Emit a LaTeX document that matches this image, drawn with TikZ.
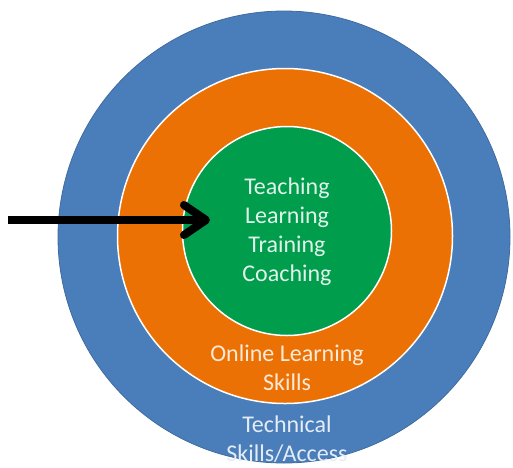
\documentclass[tikz,border=0pt]{standalone}
\usepackage{fontspec}
\setmainfont{Carlito}
\usepackage{tikz}
\usetikzlibrary{arrows.meta}

\definecolor{ringblue}{RGB}{74,126,187}
\definecolor{ringorange}{RGB}{236,113,4}
\definecolor{ringgreen}{RGB}{0,157,76}

\tikzset{
  ring/.style={circle, inner sep=0pt, draw=white, line width=1.5pt},
  label/.style={font=\fontsize{24}{29}\selectfont, align=center, inner sep=0pt},
  pointer/.style={line width=8pt, -{Straight Barb[length=22pt, width=30pt, round]}}
}

\begin{document}
\begin{tikzpicture}[x=1pt, y=-1pt]
\useasboundingbox (0,0) rectangle (513,467);
\node[ring, fill=ringblue, draw=ringblue!85!black, line width=0.8pt, minimum size=452pt] (outer) at (284,237) {};
\node[ring, fill=ringorange, minimum size=335pt] (middle) at (285,236) {};
\node[ring, fill=ringgreen, minimum size=209pt] (inner) at (287,231) {};
\node[label, text=white!88!ringgreen] (core) at (287,232) {Teaching\\Learning\\Training\\Coaching};
\node[label, text=white!85!ringorange] (online) at (287,368) {Online Learning\\Skills};
\node[label, text=white!85!ringblue] (technical) at (287,439) {Technical\\Skills/Access};
\coordinate (start) at (8,220);
\coordinate (tip) at (210,220);
\draw[pointer] (start) -- (tip);
\end{tikzpicture}
\end{document}
